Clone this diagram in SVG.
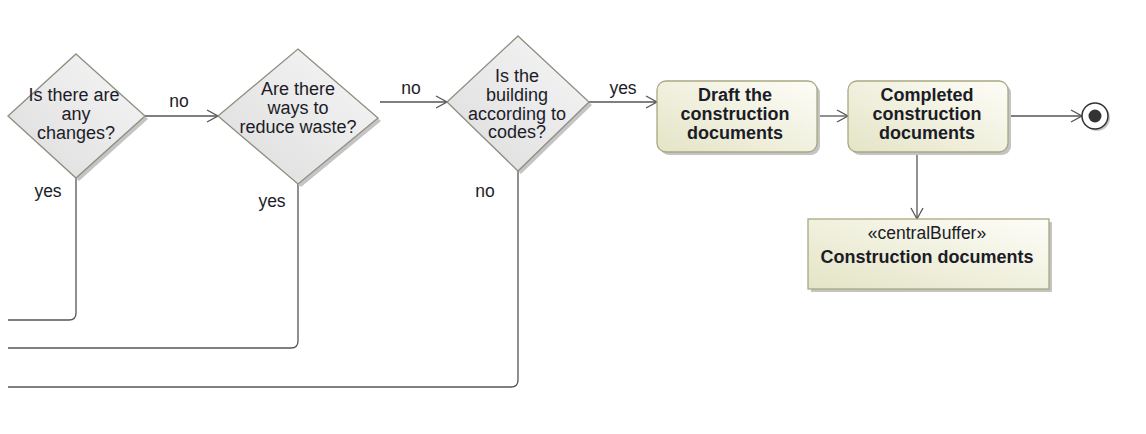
<svg xmlns="http://www.w3.org/2000/svg" width="1146" height="434" viewBox="0 0 1146 434">
<defs>
<linearGradient id="gDec" x1="0" y1="1" x2="1" y2="0">
<stop offset="0" stop-color="#dcdcdc"/>
<stop offset="1" stop-color="#f7f7f7"/>
</linearGradient>
<linearGradient id="gAct" x1="0" y1="1" x2="1" y2="0">
<stop offset="0" stop-color="#e4e4c6"/>
<stop offset="1" stop-color="#fdfdf8"/>
</linearGradient>
<marker id="arr" markerWidth="14" markerHeight="14" refX="12" refY="7" orient="auto" markerUnits="userSpaceOnUse">
<path d="M1,1 L12,7 L1,13" fill="none" stroke="#555" stroke-width="1.3"/>
</marker>
</defs>
<style>
.t{font-family:"Liberation Sans",Arial,sans-serif;fill:#1c1c28;text-anchor:middle}
.dt{font-size:18px}
.bt{font-size:18px;font-weight:bold}
.lbl{font-size:17.5px}
.st{font-size:17.5px}
.dec{fill:url(#gDec);stroke:#8f8f80;stroke-width:1.3}
.act{fill:url(#gAct);stroke:#aaa880;stroke-width:1.3}
.sh{fill:#c4c4c4}
.edge{fill:none;stroke:#555;stroke-width:1.3}
</style>
<rect width="1146" height="434" fill="#fff"/>

<g id="connectors">
<path class="edge" d="M145,116 L218,116" marker-end="url(#arr)"/>
<path class="edge" d="M380,102 L447,102" marker-end="url(#arr)"/>
<path class="edge" d="M589,102 L657,102" marker-end="url(#arr)"/>
<path class="edge" d="M817,116 L848,116" marker-end="url(#arr)"/>
<path class="edge" d="M1008,116 L1082,116" marker-end="url(#arr)"/>
<path class="edge" d="M917,152 L917,219" marker-end="url(#arr)"/>
<path class="edge" d="M76,178 L76,313 Q76,320 69,320 L8,320"/>
<path class="edge" d="M298,184 L298,341 Q298,348 291,348 L8,348"/>
<path class="edge" d="M518,171 L518,380 Q518,387 511,387 L8,387"/>
<text class="t lbl" x="179" y="107">no</text>
<text class="t lbl" x="411" y="94">no</text>
<text class="t lbl" x="623" y="94">yes</text>
<text class="t lbl" x="48" y="197">yes</text>
<text class="t lbl" x="272" y="207">yes</text>
<text class="t lbl" x="485" y="197">no</text>
</g>

<g id="dec1">
<polygon class="sh" points="79,57 148,119 79,181 11,119"/>
<polygon class="dec" points="76,54 145,116 76,178 8,116"/>
<text class="t dt" x="74" y="101">Is there are</text>
<text class="t dt" x="76" y="120">any</text>
<text class="t dt" x="76" y="139">changes?</text>
</g>

<g id="dec2">
<polygon class="sh" points="301,52 381,121 301,187 221,119"/>
<polygon class="dec" points="298,49 378,118 298,184 218,116"/>
<text class="t dt" x="298" y="95">Are there</text>
<text class="t dt" x="298" y="114">ways to</text>
<text class="t dt" x="298" y="133">reduce waste?</text>
</g>

<g id="dec3">
<polygon class="sh" points="521,39 592,105 521,174 450,105"/>
<polygon class="dec" points="518,36 589,102 518,171 447,102"/>
<text class="t dt" x="517" y="82">Is the</text>
<text class="t dt" x="517" y="101">building</text>
<text class="t dt" x="517" y="120">according to</text>
<text class="t dt" x="517" y="138">codes?</text>
</g>

<g id="draft">
<rect class="sh" x="660" y="84" width="160" height="71" rx="9"/>
<rect class="act" x="657" y="81" width="160" height="71" rx="9"/>
<text class="t bt" x="735" y="101">Draft the</text>
<text class="t bt" x="735" y="120">construction</text>
<text class="t bt" x="735" y="139">documents</text>
</g>

<g id="completed">
<rect class="sh" x="851" y="84" width="160" height="71" rx="9"/>
<rect class="act" x="848" y="81" width="160" height="71" rx="9"/>
<text class="t bt" x="927" y="101">Completed</text>
<text class="t bt" x="927" y="120">construction</text>
<text class="t bt" x="927" y="139">documents</text>
</g>

<g id="final">
<circle cx="1097" cy="118" r="13" fill="#c8c8c8"/>
<circle cx="1095" cy="116" r="13" fill="#fff" stroke="#333" stroke-width="1.5"/>
<circle cx="1095" cy="116" r="6.5" fill="#333"/>
</g>

<g id="buffer">
<rect class="sh" x="811" y="222" width="241" height="70"/>
<rect class="act" x="808" y="219" width="241" height="70"/>
<text class="t st" x="927" y="239">«centralBuffer»</text>
<text class="t bt" x="927" y="263">Construction documents</text>
</g>
</svg>
